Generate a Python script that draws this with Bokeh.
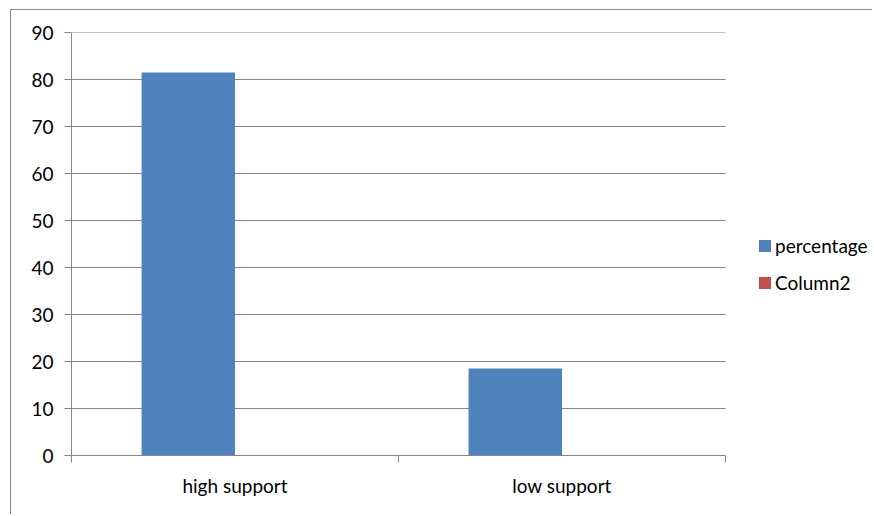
from bokeh.plotting import figure
from bokeh.models import (Range1d, FixedTicker, LinearAxis, Legend, LegendItem,
                          ColumnDataSource, Grid)
from bokeh.embed import file_html
from bokeh.resources import INLINE

# ---- data ----
categories = ["high support", "low support"]
percentage = [81.5, 18.5]
column2 = [float("nan"), float("nan")]
y_ticks = [0, 10, 20, 30, 40, 50, 60, 70, 80, 90]

FONT = "Lato"
GRID = "#868686"

n = len(categories)
n_series = 2
gap = 1.5
bw = 1.0 / (n_series + gap)
centers = [i + 0.5 for i in range(n)]
x_pct = [c - bw / 2 for c in centers]
x_c2 = [c + bw / 2 for c in centers]

src = ColumnDataSource(dict(x_pct=x_pct, x_c2=x_c2, pct=percentage, c2=column2))

W, H = 862, 505
LEFT, TOP, BOTTOM = 60, 22, 60
PLOT_W = 654                      # width of the data area (category axis)
frame_w = W - LEFT - 2
x_end = n * frame_w / PLOT_W      # frame extends right to hold the legend
y_max = max(y_ticks)

p = figure(width=W, height=H, output_backend="svg", toolbar_location=None,
           x_range=Range1d(0, x_end), y_range=Range1d(0, y_max + 0.01),
           x_axis_type=None, y_axis_type=None,
           min_border_left=LEFT, min_border_right=2,
           min_border_top=TOP, min_border_bottom=BOTTOM)
p.margin = (9, 0, 0, 10)
p.styles = {"border-left": "1px solid #8c8c8c", "border-top": "1px solid #8c8c8c"}
p.outline_line_color = None
p.background_fill_color = "white"
p.border_fill_color = "white"

# horizontal gridlines, limited to the category area
ygrid = Grid(dimension=1, ticker=FixedTicker(ticks=y_ticks),
             grid_line_color=GRID, grid_line_width=1, cross_bounds=(0, n))
p.add_layout(ygrid)

r1 = p.vbar(x="x_pct", top="pct", width=bw, source=src,
            fill_color="#4F81BD", line_color=None)
r2 = p.vbar(x="x_c2", top="c2", width=bw, source=src,
            fill_color="#C0504D", line_color=None)

# y axis
yax = LinearAxis(ticker=FixedTicker(ticks=y_ticks), bounds=(0, y_max))
yax.axis_line_color = GRID
yax.major_tick_line_color = GRID
yax.major_tick_out = 7
yax.major_tick_in = 0
yax.minor_tick_line_color = None
yax.major_label_standoff = 11
yax.major_label_text_font = FONT
yax.major_label_text_font_size = "19px"
yax.major_label_text_color = "black"
p.add_layout(yax, "left")

# x axis: labels at category centers, tick marks at category boundaries
xax = LinearAxis(ticker=FixedTicker(ticks=centers, minor_ticks=list(range(n + 1))),
                 bounds=(0, n))
xax.major_label_overrides = {c: lab for c, lab in zip(centers, categories)}
xax.axis_line_color = GRID
xax.major_tick_line_color = None
xax.major_tick_out = 0
xax.major_tick_in = 0
xax.minor_tick_line_color = GRID
xax.minor_tick_out = 7
xax.minor_tick_in = 0
xax.major_label_standoff = 11
xax.major_label_text_font = FONT
xax.major_label_text_font_size = "19px"
xax.major_label_text_color = "black"
p.add_layout(xax, "below")

legend = Legend(items=[LegendItem(label="percentage", renderers=[r1]),
                       LegendItem(label="Column2", renderers=[r2])],
                location=(686, 161))
legend.border_line_color = None
legend.background_fill_alpha = 0
legend.padding = 0
legend.margin = 0
legend.glyph_width = 15
legend.glyph_height = 15
legend.label_height = 16
legend.label_standoff = 3
legend.spacing = 14
legend.label_text_font = FONT
legend.label_text_font_size = "19px"
legend.label_text_color = "black"
p.add_layout(legend, "center")

open("out.html", "w").write(file_html(p, INLINE))
